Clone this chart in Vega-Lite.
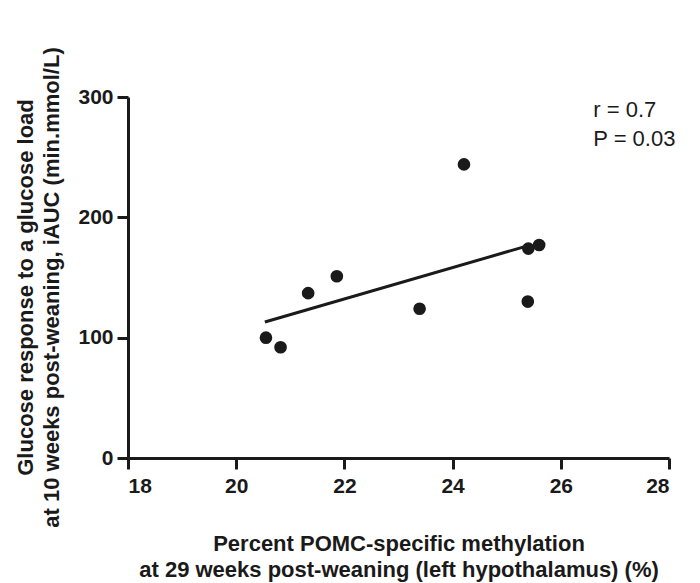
{
  "$schema": "https://vega.github.io/schema/vega-lite/v6.json",
  "width": 541,
  "height": 361,
  "autosize": "none",
  "padding": {"left": 128, "top": 97, "right": 31, "bottom": 125},
  "background": "white",
  "config": {
    "view": {"stroke": null},
    "font": "Liberation Sans",
    "axis": {
      "grid": false,
      "domainColor": "#1a1a1a",
      "domainWidth": 3,
      "tickColor": "#1a1a1a",
      "tickWidth": 3,
      "tickSize": 11,
      "labelFont": "Liberation Sans",
      "labelFontWeight": "bold",
      "labelFontSize": 21,
      "labelColor": "#1a1a1a",
      "titleFont": "Liberation Sans",
      "titleFontWeight": "bold",
      "titleFontSize": 22,
      "titleLineHeight": 26,
      "titleColor": "#1a1a1a"
    }
  },
  "datasets": {
    "points": [
      {"methylation": 20.55, "iauc": 100},
      {"methylation": 20.82, "iauc": 92},
      {"methylation": 21.33, "iauc": 137},
      {"methylation": 21.86, "iauc": 151},
      {"methylation": 23.39, "iauc": 124},
      {"methylation": 24.21, "iauc": 244},
      {"methylation": 25.40, "iauc": 174},
      {"methylation": 25.60, "iauc": 177},
      {"methylation": 25.39, "iauc": 130}
    ],
    "fit": [
      {"methylation": 20.53, "iauc": 113},
      {"methylation": 25.40, "iauc": 176.5}
    ],
    "stats": [
      {"methylation": 26.6, "iauc": 283, "label": ["r = 0.7", "P = 0.03"]}
    ]
  },
  "layer": [
    {
      "data": {"name": "fit"},
      "mark": {"type": "line", "color": "#1a1a1a", "strokeWidth": 3},
      "encoding": {
        "x": {
          "field": "methylation",
          "type": "quantitative",
          "scale": {"domain": [18, 28], "nice": false},
          "axis": {
            "values": [18, 20, 22, 24, 26, 28],
            "labelPadding": 6,
            "titlePadding": 37,
            "title": ["Percent POMC-specific methylation", "at 29 weeks post-weaning (left hypothalamus) (%)"]
          }
        },
        "y": {
          "field": "iauc",
          "type": "quantitative",
          "scale": {"domain": [0, 300], "nice": false},
          "axis": {
            "values": [0, 100, 200, 300],
            "labelPadding": 4,
            "titlePadding": 14,
            "titleY": 190,
            "title": ["Glucose response to a glucose load", "at 10 weeks post-weaning, iAUC (min.mmol/L)"]
          }
        }
      }
    },
    {
      "data": {"name": "points"},
      "mark": {"type": "point", "filled": true, "shape": "circle", "size": 160, "color": "#1a1a1a", "opacity": 1},
      "encoding": {
        "x": {"field": "methylation", "type": "quantitative"},
        "y": {"field": "iauc", "type": "quantitative"}
      }
    },
    {
      "data": {"name": "stats"},
      "mark": {"type": "text", "align": "left", "baseline": "alphabetic", "fontSize": 22, "lineHeight": 29, "color": "#1a1a1a", "font": "Liberation Sans"},
      "encoding": {
        "x": {"field": "methylation", "type": "quantitative"},
        "y": {"field": "iauc", "type": "quantitative"},
        "text": {"field": "label"}
      }
    }
  ]
}
